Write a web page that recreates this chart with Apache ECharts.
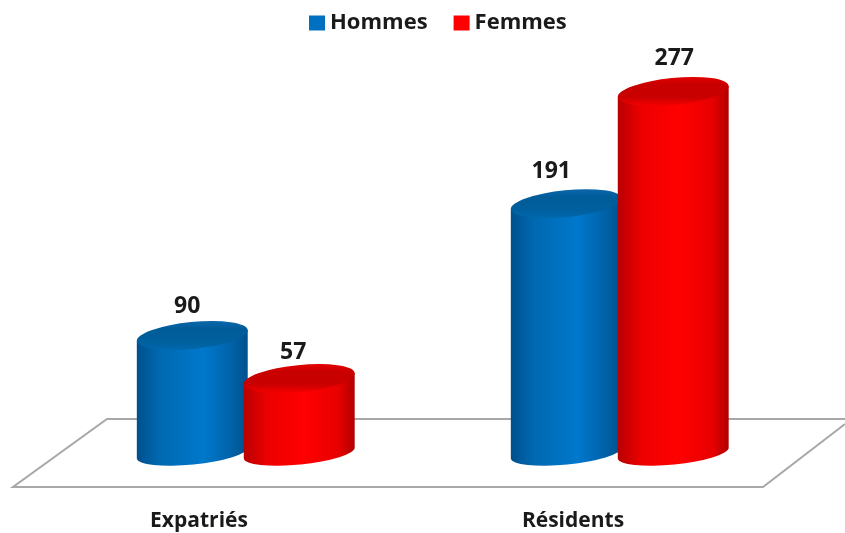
<!DOCTYPE html>
<html>
<head>
<meta charset="utf-8">
<style>
  html, body { margin: 0; padding: 0; background: #fff; }
  #main { width: 845px; height: 533px; }
</style>
<script src="https://cdn.jsdelivr.net/npm/echarts@6/dist/echarts.min.js"></script>
</head>
<body>
<div id="main"></div>
<script>
  var categories = ['Expatriés', 'Résidents']
  var hommes = [90, 191]
  var femmes = [57, 277]

  var fontName = '"Open Sans", Lato, sans-serif'
  var tilt = 5.7 * Math.PI / 180

  // one cylinder: side, then the lid on top
  function cylinder(params, api, o) {
    var cat = api.value(0)
    var val = api.value(1)
    var top = api.coord([cat, val])
    var base = api.coord([cat, 0])
    var band = api.size([1, 0])[0]
    var rx = band * 0.149
    var ry = 13.5
    var cx = top[0] + band * o.shift
    var dx = rx * Math.cos(tilt)
    var dy = rx * Math.sin(tilt)
    var deg = -tilt * 180 / Math.PI
    var arc = 'A' + rx + ' ' + ry + ' ' + deg + ' 0 1 '
    var arcBase = 'A' + rx + ' ' + (ry - 2) + ' ' + deg + ' 0 1 '
    var side = 'M' + (cx + dx) + ' ' + (top[1] - dy) +
      'L' + (cx + dx) + ' ' + (base[1] - dy) +
      arcBase + (cx - dx) + ' ' + (base[1] + dy) +
      'L' + (cx - dx) + ' ' + (top[1] + dy) + 'Z'
    var lid = 'M' + (cx + dx) + ' ' + (top[1] - dy) +
      arc + (cx - dx) + ' ' + (top[1] + dy) +
      arc + (cx + dx) + ' ' + (top[1] - dy) + 'Z'
    var nudge = o.nudge[params.dataIndex]
    return {
      type: 'group',
      children: [{
        type: 'path',
        shape: { pathData: side },
        style: {
          fill: new echarts.graphic.LinearGradient(0, 0, 1, 0, o.side)
        }
      }, {
        type: 'path',
        shape: { pathData: lid },
        style: {
          fill: new echarts.graphic.LinearGradient(0, 0, 0, 1, o.lid)
        }
      }, {
        type: 'text',
        style: {
          text: String(val),
          x: cx + nudge[0],
          y: top[1] + nudge[1],
          align: 'center',
          verticalAlign: 'middle',
          fill: '#1a1a1a',
          fontSize: 23,
          fontWeight: 'bold',
          fontFamily: fontName
        }
      }]
    }
  }

  var blueStyle = {
    shift: -0.0180,
    nudge: [[-5, -29], [-15, -32]],
    side: [
      { offset: 0, color: '#004f8c' },
      { offset: 0.2, color: '#0068b0' },
      { offset: 0.6, color: '#0078cc' },
      { offset: 0.85, color: '#0062a8' },
      { offset: 1, color: '#004f8c' }
    ],
    lid: [
      { offset: 0, color: '#0a66a8' },
      { offset: 0.25, color: '#005c98' },
      { offset: 0.75, color: '#005f9e' },
      { offset: 1, color: '#0068ac' }
    ]
  }
  var redStyle = {
    shift: 0.2680,
    nudge: [[-6, -26], [1, -33]],
    side: [
      { offset: 0, color: '#b80000' },
      { offset: 0.22, color: '#ee0000' },
      { offset: 0.55, color: '#ff0000' },
      { offset: 0.85, color: '#e80000' },
      { offset: 1, color: '#b00000' }
    ],
    lid: [
      { offset: 0, color: '#e00000' },
      { offset: 0.25, color: '#c80000' },
      { offset: 0.7, color: '#c80000' },
      { offset: 1, color: '#f00000' }
    ]
  }

  var chart = echarts.init(document.getElementById('main'))
  var option = {
    backgroundColor: '#fff',
    animation: false,
    legend: {
      left: 304,
      top: 7,
      icon: 'rect',
      itemWidth: 16,
      itemHeight: 15,
      itemGap: 26,
      textStyle: { color: '#1a1a1a', fontSize: 22, fontWeight: 'bold', fontFamily: fontName },
      data: ['Hommes', 'Femmes']
    },
    grid: { left: 12, right: 85, top: 61.5, bottom: 80 },
    xAxis: {
      type: 'category',
      data: categories,
      axisLine: { show: false },
      axisTick: { show: false },
      axisLabel: { margin: 58, color: '#1a1a1a', fontSize: 21, fontWeight: 'bold', fontFamily: fontName }
    },
    yAxis: {
      type: 'value',
      min: 0,
      max: 300,
      show: false
    },
    // floor of the 3d plot
    graphic: [{
      type: 'polyline',
      silent: true,
      z: 0,
      shape: { points: [[845, 419], [107, 419], [13, 487], [763, 487], [845, 424]] },
      style: { fill: null, stroke: '#a8a8a8', lineWidth: 2 }
    }],
    series: [{
      name: 'Hommes',
      type: 'custom',
      clip: false,
      z: 3,
      itemStyle: { color: '#0070c0' },
      encode: { x: 0, y: 1 },
      data: hommes.map(function (v, i) { return [i, v] }),
      renderItem: function (params, api) { return cylinder(params, api, blueStyle) }
    }, {
      name: 'Femmes',
      type: 'custom',
      clip: false,
      z: 4,
      itemStyle: { color: '#ff0000' },
      encode: { x: 0, y: 1 },
      data: femmes.map(function (v, i) { return [i, v] }),
      renderItem: function (params, api) { return cylinder(params, api, redStyle) }
    }]
  }
  chart.setOption(option)
</script>
</body>
</html>
